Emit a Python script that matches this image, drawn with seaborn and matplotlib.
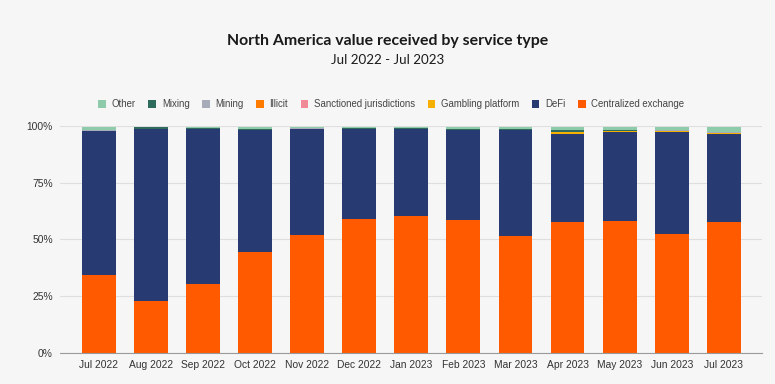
import pandas as pd
import matplotlib.pyplot as plt
import seaborn as sns
import numpy as np
from matplotlib.patches import Patch

# months on the x axis
months = ['Jul 2022', 'Aug 2022', 'Sep 2022', 'Oct 2022', 'Nov 2022', 'Dec 2022', 'Jan 2023',
          'Feb 2023', 'Mar 2023', 'Apr 2023', 'May 2023', 'Jun 2023', 'Jul 2023']

# share of value received (%), bottom layer first
centralized_exchange = [34.5, 23.0, 30.5, 44.5, 52.0, 59.0, 60.5, 58.5, 51.5, 57.5, 58.0, 52.5, 57.5]
defi = [63.3, 75.6, 68.1, 53.5, 46.6, 39.6, 38.1, 39.5, 46.5, 39.0, 39.2, 44.7, 39.0]
gambling_platform = [0.1, 0.1, 0.1, 0.2, 0.1, 0.1, 0.1, 0.1, 0.2, 0.8, 0.6, 0.7, 0.3]
sanctioned = [0.0, 0.0, 0.0, 0.0, 0.1, 0.0, 0.0, 0.0, 0.0, 0.0, 0.0, 0.0, 0.0]
illicit = [0.05, 0.05, 0.05, 0.05, 0.05, 0.05, 0.05, 0.05, 0.05, 0.05, 0.05, 0.05, 0.05]
mining = [0.05, 0.1, 0.1, 0.1, 0.1, 0.1, 0.1, 0.1, 0.1, 0.1, 0.1, 0.1, 0.3]
mixing = [0.2, 0.5, 0.4, 0.2, 0.1, 0.4, 0.2, 0.2, 0.3, 0.6, 0.2, 0.2, 0.3]
other = [1.3, 0.4, 0.4, 1.1, 0.6, 0.3, 0.6, 1.1, 1.0, 1.5, 1.4, 1.3, 2.1]

layers = ['Centralized exchange', 'DeFi', 'Gambling platform', 'Sanctioned jurisdictions',
          'Illicit', 'Mining', 'Mixing', 'Other']
colors = ['#ff5a00', '#283a72', '#f5b000', '#f08a96', '#ff7b00', '#a8abb8', '#2e6a5e', '#8ecbab']

df = pd.DataFrame({'Month': months,
                   'Centralized exchange': centralized_exchange, 'DeFi': defi,
                   'Gambling platform': gambling_platform, 'Sanctioned jurisdictions': sanctioned,
                   'Illicit': illicit, 'Mining': mining, 'Mixing': mixing, 'Other': other})

# cumulative tops, draw top layer first so lower layers cover it
cum = df[layers].cumsum(axis=1)

bg = '#f6f6f6'
fig = plt.figure(figsize=(7.75, 3.84), dpi=100, facecolor=bg)
ax = fig.add_axes([0.077, 0.081, 0.906, 0.591])
ax.set_facecolor(bg)

for layer, color in reversed(list(zip(layers, colors))):
    sns.barplot(x=df['Month'], y=cum[layer], color=color, width=0.65, ax=ax,
                saturation=1, linewidth=0, order=months)

ax.set_ylim(0, 100)
ax.set_xlim(-0.75, 12.73)
ax.set_yticks([0, 25, 50, 75, 100])
ax.set_yticklabels(['0%', '25%', '50%', '75%', '100%'])
ax.set_xlabel('')
ax.set_ylabel('')
ax.yaxis.grid(True, color='#dedede', linewidth=0.8)
ax.set_axisbelow(True)
for s in ['left', 'right', 'top']:
    ax.spines[s].set_visible(False)
ax.spines['bottom'].set_color('#9a9a9a')
ax.spines['bottom'].set_linewidth(0.8)
ax.tick_params(axis='both', length=0, labelsize=7.4, colors='#333333', pad=5)
for lab in ax.get_xticklabels() + ax.get_yticklabels():
    lab.set_family('Liberation Sans')

# legend, reversed order
handles = [Patch(facecolor=c, edgecolor='none', label=l) for l, c in zip(layers, colors)][::-1]
leg = fig.legend(handles=handles, loc='center', bbox_to_anchor=(0.505, 0.728), ncol=8,
                 frameon=False, handlelength=0.8, handleheight=0.8,
                 columnspacing=1.3, handletextpad=0.6, prop={'family': 'Liberation Sans', 'size': 6.9})
for t in leg.get_texts():
    t.set_color('#444444')

fig.text(0.5, 0.893, 'North America value received by service type', ha='center', va='center',
         fontsize=11.4, fontweight='bold', family='Lato', color='#1a1a1a')
fig.text(0.5, 0.845, 'Jul 2022 - Jul 2023', ha='center', va='center',
         fontsize=9.6, family='Lato', color='#1a1a1a')

fig.savefig('out.png', dpi=100, facecolor=bg)
